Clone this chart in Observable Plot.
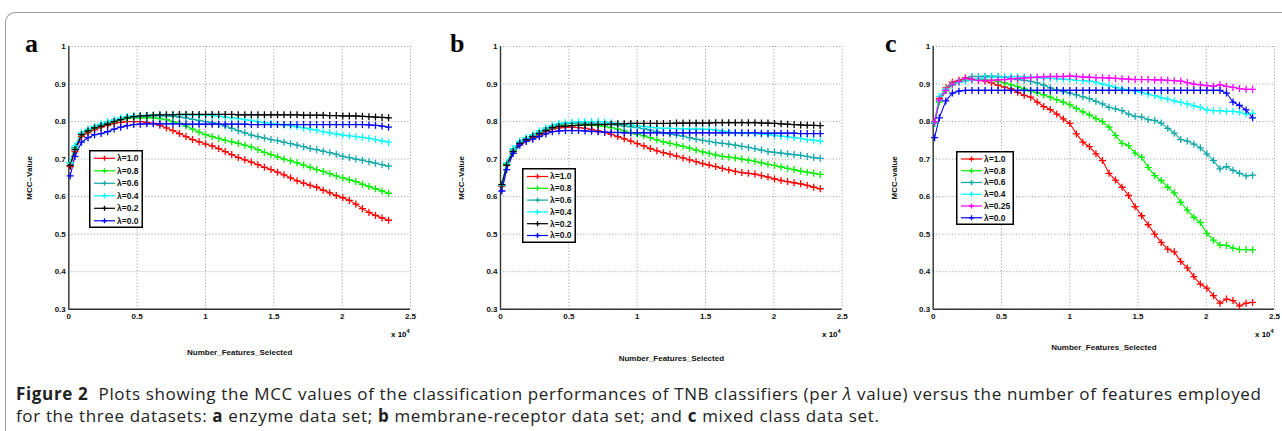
<!DOCTYPE html>
<html><head><meta charset="utf-8">
<script src="https://cdn.jsdelivr.net/npm/d3@7"></script>
<script src="https://cdn.jsdelivr.net/npm/@observablehq/plot@0.6"></script>
<style>
body{margin:0;background:#fff;}
#page{position:relative;width:1282px;height:431px;overflow:hidden;font-family:"Liberation Sans",Arial,sans-serif;}
#frame{position:absolute;left:5px;top:12px;width:1400px;height:500px;border-top:1px solid #9a9a9a;border-left:1px solid #9a9a9a;border-top-left-radius:10px;box-sizing:border-box;}
.panel{position:absolute;top:0;}
.letter{position:absolute;font-family:"Liberation Serif",serif;font-weight:bold;font-size:26px;line-height:26px;}
.exp{position:absolute;font-family:"Liberation Sans",Arial,sans-serif;font-weight:bold;font-size:8px;line-height:8px;white-space:nowrap;}
.exp sup{font-size:5.5px;vertical-align:4px;}
#caption{position:absolute;left:16px;top:383px;font-family:"Open Sans",sans-serif;font-size:17px;letter-spacing:0.65px;line-height:21.5px;color:#222;white-space:nowrap;}
</style></head>
<body><div id="page"><div id="frame"></div><div id="caption"></div></div>
<script>
// ---------- data ----------
const features = [100, 450, 928, 1406, 1884, 2362, 2840, 3318, 3796, 4274, 4752, 5230, 5708, 6186, 6664, 7142, 7620, 8098, 8576, 9054, 9532, 10010, 10488, 10966, 11444, 11922, 12400, 12878, 13356, 13834, 14312, 14790, 15268, 15746, 16224, 16702, 17180, 17658, 18136, 18614, 19092, 19570, 20048, 20526, 21004, 21482, 21960, 22438, 22916, 23394];

const xTicks = [0, 5000, 10000, 15000, 20000, 25000];
const yTicks = [0.3, 0.4, 0.5, 0.6, 0.7, 0.8, 0.9, 1.0];

const labelsAB = ["λ=1.0", "λ=0.8", "λ=0.6", "λ=0.4", "λ=0.2", "λ=0.0"];
const labelsC  = ["λ=1.0", "λ=0.8", "λ=0.6", "λ=0.4", "λ=0.25", "λ=0.0"];
const colorsAB = ["#ff0000", "#00ee00", "#10a8a8", "#00ffff", "#000000", "#0000ff"];
const colorsC  = ["#ff0000", "#00ee00", "#10a8a8", "#00ffff", "#ff00ff", "#0000ff"];

// panel a: enzyme
const aL10 = [0.68, 0.72, 0.76, 0.77, 0.778, 0.785, 0.79, 0.795, 0.798, 0.80, 0.80, 0.80, 0.798, 0.795, 0.79, 0.783, 0.776, 0.768, 0.76, 0.752, 0.746, 0.74, 0.735, 0.728, 0.72, 0.712, 0.704, 0.698, 0.692, 0.685, 0.678, 0.672, 0.665, 0.658, 0.65, 0.642, 0.636, 0.63, 0.625, 0.617, 0.61, 0.603, 0.597, 0.59, 0.58, 0.568, 0.558, 0.55, 0.543, 0.537];
const aL08 = [0.69, 0.73, 0.765, 0.775, 0.783, 0.79, 0.795, 0.80, 0.805, 0.808, 0.81, 0.81, 0.81, 0.81, 0.808, 0.805, 0.80, 0.795, 0.788, 0.78, 0.772, 0.765, 0.76, 0.755, 0.75, 0.746, 0.742, 0.737, 0.732, 0.725, 0.718, 0.712, 0.706, 0.70, 0.695, 0.69, 0.684, 0.678, 0.672, 0.667, 0.661, 0.655, 0.65, 0.645, 0.64, 0.633, 0.627, 0.621, 0.615, 0.609];
const aL06 = [0.69, 0.73, 0.767, 0.777, 0.785, 0.79, 0.796, 0.80, 0.806, 0.81, 0.812, 0.813, 0.814, 0.815, 0.815, 0.815, 0.814, 0.812, 0.81, 0.806, 0.803, 0.80, 0.797, 0.793, 0.788, 0.782, 0.776, 0.77, 0.764, 0.76, 0.756, 0.752, 0.749, 0.745, 0.741, 0.737, 0.733, 0.728, 0.725, 0.721, 0.717, 0.713, 0.707, 0.704, 0.70, 0.697, 0.693, 0.689, 0.685, 0.681];
const aL04 = [0.69, 0.735, 0.77, 0.78, 0.787, 0.794, 0.80, 0.805, 0.81, 0.814, 0.816, 0.816, 0.817, 0.817, 0.817, 0.818, 0.818, 0.818, 0.818, 0.818, 0.817, 0.817, 0.816, 0.814, 0.812, 0.81, 0.808, 0.805, 0.803, 0.80, 0.797, 0.795, 0.793, 0.791, 0.789, 0.786, 0.783, 0.78, 0.777, 0.773, 0.77, 0.767, 0.764, 0.762, 0.76, 0.758, 0.755, 0.752, 0.748, 0.745];
const aL02 = [0.683, 0.725, 0.765, 0.775, 0.783, 0.788, 0.793, 0.80, 0.805, 0.81, 0.813, 0.815, 0.816, 0.817, 0.818, 0.818, 0.818, 0.819, 0.819, 0.819, 0.819, 0.819, 0.819, 0.819, 0.819, 0.819, 0.818, 0.818, 0.818, 0.818, 0.818, 0.818, 0.818, 0.818, 0.818, 0.818, 0.817, 0.817, 0.817, 0.817, 0.816, 0.816, 0.815, 0.815, 0.815, 0.814, 0.813, 0.812, 0.811, 0.81];
const aL00 = [0.655, 0.707, 0.745, 0.757, 0.765, 0.768, 0.773, 0.78, 0.785, 0.789, 0.792, 0.793, 0.794, 0.794, 0.794, 0.794, 0.794, 0.794, 0.793, 0.793, 0.793, 0.793, 0.793, 0.793, 0.793, 0.793, 0.793, 0.793, 0.792, 0.792, 0.792, 0.792, 0.792, 0.792, 0.792, 0.792, 0.792, 0.792, 0.792, 0.792, 0.792, 0.792, 0.792, 0.792, 0.792, 0.792, 0.791, 0.79, 0.788, 0.785];

// panel b: membrane-receptor
const bL10 = [0.628, 0.683, 0.72, 0.74, 0.75, 0.758, 0.765, 0.773, 0.78, 0.783, 0.785, 0.785, 0.784, 0.782, 0.779, 0.775, 0.771, 0.766, 0.76, 0.754, 0.748, 0.741, 0.735, 0.728, 0.722, 0.717, 0.713, 0.708, 0.703, 0.698, 0.693, 0.688, 0.684, 0.68, 0.675, 0.671, 0.667, 0.664, 0.662, 0.66, 0.656, 0.652, 0.647, 0.643, 0.64, 0.637, 0.634, 0.63, 0.625, 0.621];
const bL08 = [0.63, 0.685, 0.722, 0.742, 0.752, 0.76, 0.768, 0.776, 0.783, 0.787, 0.789, 0.79, 0.79, 0.79, 0.79, 0.789, 0.787, 0.784, 0.78, 0.775, 0.77, 0.766, 0.762, 0.757, 0.751, 0.746, 0.742, 0.738, 0.734, 0.729, 0.724, 0.719, 0.715, 0.711, 0.707, 0.705, 0.703, 0.70, 0.697, 0.694, 0.69, 0.686, 0.683, 0.679, 0.675, 0.672, 0.668, 0.665, 0.662, 0.659];
const bL06 = [0.63, 0.688, 0.725, 0.745, 0.755, 0.763, 0.772, 0.78, 0.787, 0.792, 0.794, 0.795, 0.796, 0.796, 0.796, 0.795, 0.794, 0.792, 0.79, 0.788, 0.786, 0.784, 0.781, 0.777, 0.773, 0.77, 0.767, 0.764, 0.761, 0.757, 0.753, 0.75, 0.747, 0.744, 0.742, 0.74, 0.737, 0.734, 0.731, 0.728, 0.724, 0.72, 0.718, 0.716, 0.714, 0.712, 0.71, 0.707, 0.704, 0.702];
const bL04 = [0.63, 0.69, 0.728, 0.748, 0.757, 0.765, 0.775, 0.783, 0.79, 0.795, 0.797, 0.798, 0.799, 0.80, 0.80, 0.80, 0.799, 0.797, 0.795, 0.793, 0.791, 0.789, 0.787, 0.785, 0.783, 0.782, 0.782, 0.781, 0.781, 0.78, 0.78, 0.78, 0.779, 0.777, 0.775, 0.772, 0.77, 0.77, 0.769, 0.768, 0.767, 0.765, 0.763, 0.761, 0.759, 0.757, 0.755, 0.752, 0.75, 0.748];
const bL02 = [0.632, 0.684, 0.72, 0.742, 0.752, 0.76, 0.768, 0.776, 0.784, 0.787, 0.788, 0.789, 0.79, 0.791, 0.791, 0.792, 0.792, 0.793, 0.794, 0.794, 0.795, 0.795, 0.795, 0.795, 0.795, 0.795, 0.795, 0.796, 0.796, 0.796, 0.796, 0.796, 0.796, 0.797, 0.797, 0.797, 0.797, 0.797, 0.797, 0.797, 0.796, 0.796, 0.795, 0.794, 0.793, 0.792, 0.791, 0.79, 0.79, 0.789];
const bL00 = [0.615, 0.672, 0.715, 0.737, 0.747, 0.753, 0.76, 0.767, 0.773, 0.775, 0.776, 0.776, 0.776, 0.775, 0.774, 0.773, 0.772, 0.771, 0.771, 0.77, 0.77, 0.77, 0.77, 0.77, 0.77, 0.77, 0.77, 0.77, 0.77, 0.77, 0.77, 0.77, 0.77, 0.77, 0.77, 0.77, 0.77, 0.77, 0.77, 0.77, 0.769, 0.769, 0.769, 0.769, 0.769, 0.769, 0.768, 0.768, 0.768, 0.768];

// panel c: mixed class
const cL10 = [0.80, 0.862, 0.89, 0.905, 0.91, 0.916, 0.913, 0.91, 0.908, 0.903, 0.897, 0.892, 0.887, 0.878, 0.87, 0.865, 0.852, 0.84, 0.832, 0.82, 0.807, 0.795, 0.767, 0.745, 0.733, 0.714, 0.696, 0.662, 0.644, 0.625, 0.603, 0.573, 0.549, 0.525, 0.50, 0.478, 0.46, 0.453, 0.427, 0.41, 0.387, 0.367, 0.356, 0.336, 0.316, 0.327, 0.323, 0.309, 0.316, 0.318];
const cL08 = [0.795, 0.852, 0.882, 0.90, 0.907, 0.91, 0.912, 0.912, 0.911, 0.91, 0.907, 0.903, 0.898, 0.893, 0.887, 0.881, 0.877, 0.871, 0.865, 0.858, 0.852, 0.845, 0.835, 0.826, 0.818, 0.808, 0.80, 0.785, 0.763, 0.742, 0.736, 0.716, 0.705, 0.678, 0.656, 0.643, 0.625, 0.61, 0.585, 0.564, 0.545, 0.531, 0.502, 0.484, 0.471, 0.47, 0.463, 0.459, 0.459, 0.458];
const cL06 = [0.795, 0.855, 0.883, 0.897, 0.905, 0.915, 0.92, 0.92, 0.921, 0.921, 0.92, 0.918, 0.915, 0.912, 0.91, 0.907, 0.903, 0.897, 0.89, 0.884, 0.88, 0.876, 0.871, 0.866, 0.861, 0.854, 0.847, 0.838, 0.834, 0.829, 0.82, 0.814, 0.812, 0.805, 0.803, 0.796, 0.782, 0.769, 0.752, 0.748, 0.74, 0.73, 0.714, 0.696, 0.674, 0.68, 0.67, 0.662, 0.655, 0.657];
const cL04 = [0.80, 0.867, 0.887, 0.90, 0.905, 0.908, 0.91, 0.914, 0.917, 0.918, 0.918, 0.919, 0.92, 0.92, 0.919, 0.918, 0.917, 0.916, 0.915, 0.914, 0.913, 0.912, 0.91, 0.909, 0.908, 0.905, 0.90, 0.896, 0.891, 0.887, 0.884, 0.881, 0.878, 0.873, 0.869, 0.864, 0.86, 0.855, 0.851, 0.847, 0.842, 0.838, 0.831, 0.829, 0.829, 0.827, 0.827, 0.825, 0.82, 0.822];
const cL025 = [0.80, 0.858, 0.883, 0.90, 0.907, 0.915, 0.912, 0.91, 0.91, 0.91, 0.911, 0.912, 0.914, 0.915, 0.916, 0.917, 0.918, 0.919, 0.92, 0.92, 0.92, 0.921, 0.92, 0.919, 0.918, 0.917, 0.917, 0.916, 0.915, 0.914, 0.913, 0.912, 0.912, 0.912, 0.911, 0.911, 0.91, 0.909, 0.908, 0.904, 0.90, 0.898, 0.896, 0.894, 0.898, 0.894, 0.891, 0.888, 0.886, 0.886];
const cL00 = [0.757, 0.81, 0.855, 0.876, 0.881, 0.883, 0.883, 0.883, 0.883, 0.883, 0.883, 0.883, 0.883, 0.883, 0.883, 0.883, 0.883, 0.883, 0.883, 0.883, 0.883, 0.883, 0.883, 0.883, 0.883, 0.883, 0.883, 0.883, 0.883, 0.883, 0.883, 0.883, 0.883, 0.883, 0.883, 0.883, 0.883, 0.883, 0.883, 0.883, 0.883, 0.883, 0.883, 0.883, 0.883, 0.876, 0.852, 0.843, 0.831, 0.81];

// ---------- drawing ----------
const page = document.getElementById("page");
const font = {fontFamily: "'Liberation Sans', Arial, sans-serif", fontWeight: "bold", fontSize: "8px"};

function drawPanel(cfg) {
  const data = [];
  cfg.series.forEach((vals, s) => vals.forEach((v, i) => data.push({x: features[i], y: v, s: cfg.labels[s]})));
  const div = document.createElement("div");
  div.className = "panel";
  div.style.left = cfg.left + "px";
  const grid = {stroke: "#666", strokeOpacity: 0.75, strokeDasharray: "1,2.2", strokeWidth: 0.9};
  const plot = Plot.plot({
    width: cfg.width, height: 370,
    marginLeft: cfg.ml, marginRight: cfg.mr, marginTop: 46, marginBottom: 61.3,
    style: {...font, background: "transparent", overflow: "visible", color: "#111"},
    x: {domain: [0, 25000]},
    y: {domain: [0.3, 1]},
    color: {domain: cfg.labels, range: cfg.colors},
    marks: [
      Plot.gridX(xTicks, grid),
      Plot.gridY(yTicks, grid),
      Plot.axisX({ticks: xTicks, tickSize: 0, tickPadding: 4, tickFormat: d => String(d / 1e4),
        label: "Number_Features_Selected", labelAnchor: "center", labelOffset: cfg.xlo, labelArrow: "none"}),
      Plot.axisY({ticks: yTicks, tickSize: 0, tickPadding: 3, tickFormat: d => d >= 1 ? "1" : d.toFixed(1),
        label: cfg.ylabel, labelAnchor: "center", labelOffset: 42, labelArrow: "none"}),
      Plot.ruleX([0], {stroke: "#333", strokeWidth: 1.4}),
      Plot.ruleY([0.3], {stroke: "#333", strokeWidth: 1.4}),
      Plot.line(data, {x: "x", y: "y", z: "s", stroke: "s", strokeWidth: 1.1}),
      Plot.dot(data, {x: "x", y: "y", stroke: "s", symbol: "plus", r: 2.4, strokeWidth: 1.3})
    ]
  });
  div.appendChild(plot);
  page.appendChild(div);

  // panel letter
  const L = document.createElement("div");
  L.className = "letter"; L.textContent = cfg.letter;
  L.style.left = cfg.letterX + "px"; L.style.top = "31px";
  page.appendChild(L);

  // x 10^4 multiplier
  const E = document.createElement("div");
  E.className = "exp"; E.innerHTML = "x 10<sup>4</sup>";
  E.style.left = cfg.expX + "px"; E.style.top = "327px";
  page.appendChild(E);

  // legend
  const lg = cfg.legend;
  const svg = d3.create("svg").attr("width", lg.w).attr("height", lg.h)
    .style("position", "absolute").style("left", lg.x + "px").style("top", lg.y + "px");
  svg.append("rect").attr("x", 0.75).attr("y", 0.75).attr("width", lg.w - 1.5).attr("height", lg.h - 1.5)
    .attr("fill", "#fff").attr("stroke", "#000").attr("stroke-width", 1.5);
  cfg.labels.forEach((lab, i) => {
    const y = lg.y0 + i * lg.dy;
    svg.append("line").attr("x1", 5).attr("x2", 26).attr("y1", y).attr("y2", y)
      .attr("stroke", cfg.colors[i]).attr("stroke-width", 1.2);
    svg.append("path").attr("d", `M13,${y}h5M15.5,${y - 2.5}v5`).attr("stroke", cfg.colors[i]).attr("stroke-width", 1.3);
    svg.append("text").attr("x", 28).attr("y", y).attr("dy", "0.34em").text(lab)
      .style("font-family", font.fontFamily).style("font-weight", "bold").style("font-size", "8.5px").attr("fill", "#111");
  });
  page.appendChild(svg.node());
}

drawPanel({left: 0, width: 430, ml: 68.3, mr: 20, xlo: 46, ylabel: "MCC–Value",
  series: [aL10, aL08, aL06, aL04, aL02, aL00], labels: labelsAB, colors: colorsAB,
  letter: "a", letterX: 25, expX: 391,
  legend: {x: 89, y: 150, w: 54, h: 78, y0: 8.3, dy: 12.5}});
drawPanel({left: 430, width: 430, ml: 70, mr: 18.3, xlo: 52, ylabel: "MCC–Value",
  series: [bL10, bL08, bL06, bL04, bL02, bL00], labels: labelsAB, colors: colorsAB,
  letter: "b", letterX: 450, expX: 822,
  legend: {x: 522, y: 168, w: 54, h: 75, y0: 8.5, dy: 11.8}});
drawPanel({left: 860, width: 422, ml: 72.7, mr: 8, xlo: 41, ylabel: "MCC–value",
  series: [cL10, cL08, cL06, cL04, cL025, cL00], labels: labelsC, colors: colorsC,
  letter: "c", letterX: 885, expX: 1255,
  legend: {x: 956, y: 151, w: 58, h: 74, y0: 8, dy: 11.75}});

document.getElementById("caption").innerHTML =
  "<b>Figure 2</b>&nbsp; Plots showing the MCC values of the classification performances of TNB classifiers (per <i>λ</i> value) versus the number of features employed<br>" +
  "for the three datasets: <b>a</b> enzyme data set; <b>b</b> membrane-receptor data set; and <b>c</b> mixed class data set.";
</script></body></html>
